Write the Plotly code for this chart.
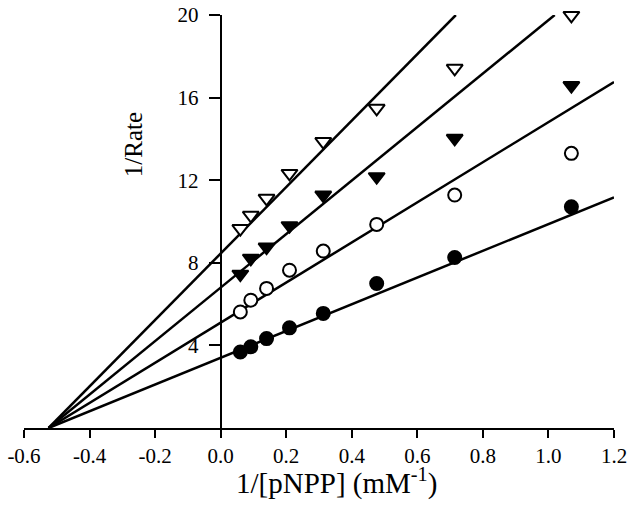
import plotly.graph_objects as go

# 1/[pNPP] (mM^-1)
inv_s = [0.06, 0.092, 0.14, 0.21, 0.313, 0.476, 0.714, 1.07]

# 1/Rate for the four inhibitor levels
rate_filled_circle = [3.68, 3.93, 4.33, 4.85, 5.55, 7.00, 8.26, 10.71]
rate_open_circle = [5.62, 6.19, 6.76, 7.64, 8.57, 9.86, 11.28, 13.30]
rate_filled_tri = [7.45, 8.22, 8.76, 9.80, 11.28, 12.17, 14.03, 16.58]
rate_open_tri = [9.66, 10.30, 11.12, 12.33, 13.87, 15.48, 17.42, 19.98]

# Fitted lines: common x-intercept and y-intercepts
x_intercept = -0.525
y_intercepts = [3.40, 5.10, 6.80, 8.45]

x_ticks = [-0.6, -0.4, -0.2, 0.0, 0.2, 0.4, 0.6, 0.8, 1.0, 1.2]
x_tick_labels = ["-0.6", "-0.4", "-0.2", "0.0", "0.2", "0.4", "0.6", "0.8", "1.0", "1.2"]
y_ticks = [4, 8, 12, 16, 20]

X_MAX, Y_MAX = 1.2, 20

FONT = "Liberation Serif"

fig = go.Figure()

for b in y_intercepts:
    slope = b / (0 - x_intercept)
    x_end = min(X_MAX, Y_MAX / slope + x_intercept)
    fig.add_trace(go.Scatter(
        x=[x_intercept, x_end],
        y=[0, slope * (x_end - x_intercept)],
        mode="lines",
        line=dict(color="black", width=2.5),
        showlegend=False, hoverinfo="skip",
    ))

series = [
    (rate_filled_circle, "circle", 13, "black"),
    (rate_open_circle, "circle", 13, "white"),
    (rate_filled_tri, "triangle-down", 14, "black"),
    (rate_open_tri, "triangle-down", 14, "white"),
]
for ys, sym, size, fill in series:
    fig.add_trace(go.Scatter(
        x=inv_s, y=ys, mode="markers",
        marker=dict(symbol=sym, size=size, color=fill,
                    line=dict(color="black", width=2)),
        cliponaxis=False, showlegend=False,
    ))

fig.update_layout(
    width=629, height=507,
    margin=dict(l=24, r=15, t=15, b=79),
    paper_bgcolor="white", plot_bgcolor="white",
    font=dict(family=FONT, color="black", size=21),
    xaxis=dict(
        range=[-0.6, 1.2], tickvals=x_ticks, ticktext=x_tick_labels,
        ticks="outside", ticklen=8, tickwidth=2, tickcolor="black",
        showline=True, linewidth=2, linecolor="black",
        showgrid=False, zeroline=False, automargin=False,
        tickfont=dict(family=FONT, size=21, color="black"),
    ),
    yaxis=dict(
        range=[0, 20], tickvals=y_ticks,
        anchor="free", position=1/3,
        ticks="outside", ticklen=11, tickwidth=2, tickcolor="black",
        showline=True, linewidth=2, linecolor="black",
        showgrid=False, zeroline=False, automargin=False,
        ticklabelstandoff=6,
        tickfont=dict(family=FONT, size=21, color="black"),
    ),
    annotations=[
        dict(text="1/[pNPP] (mM<sup>-1</sup>)", xref="paper", yref="paper",
             x=0.53, y=-0.13, xanchor="center", yanchor="middle",
             showarrow=False, font=dict(family=FONT, size=29, color="black")),
        dict(text="1/Rate", xref="paper", yref="paper",
             x=0.185, y=0.685, xanchor="center", yanchor="middle",
             textangle=-90, showarrow=False,
             font=dict(family=FONT, size=25, color="black")),
    ],
)

fig.write_html(
    "out.html",
    config={"displayModeBar": False},
    post_script="document.body.style.margin='0px';document.body.style.overflow='hidden';",
)
